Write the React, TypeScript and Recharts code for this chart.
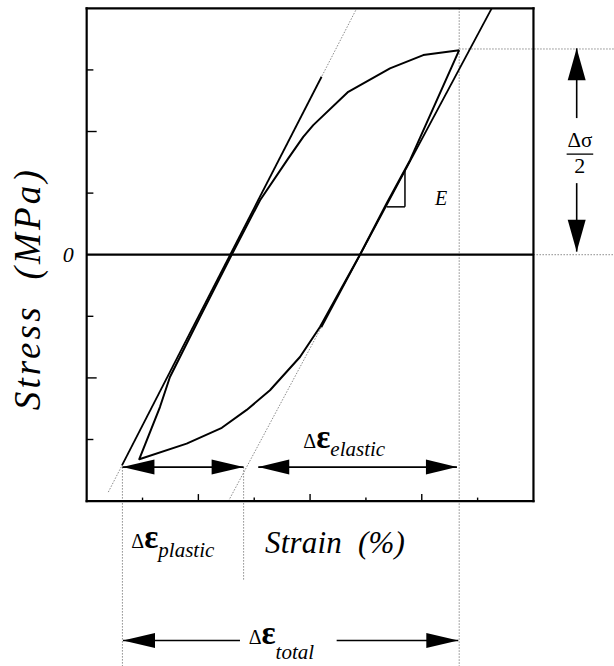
import React from 'react';
import { LineChart, Line, XAxis, YAxis, ReferenceLine, ReferenceDot } from 'recharts';

// ---- Hysteresis loop (strain in axis units, stress in tick units) ----
const lowerBranchStrain = [6.67, 5.79, 5.372, 4.893, 4.177, 3.819, 3.282, 2.865, 2.42, 1.79, 0.942];
const lowerBranchStress = [3.32, 1.534, 0.837, 0.0, -1.173, -1.66, -2.201, -2.52, -2.81, -3.067, -3.32];
const upperBranchStrain = [1.312, 1.491, 2.029, 2.596, 3.104, 3.61, 3.878, 4.057, 4.684, 5.431, 6.027, 6.67];
const upperBranchStress = [-2.473, -1.985, -1.011, 0.0, 0.885, 1.563, 1.914, 2.104, 2.645, 3.025, 3.241, 3.32];

// ---- Elastic (modulus E) lines ----
const leftElasticStrain = [0.387, 4.835];
const leftElasticStress = [-3.854, 3.999];
const leftElasticSolidStrain = [0.632, 4.206];
const leftElasticSolidStress = [-3.42, 2.889];
const rightElasticStrain = [2.538, 7.252];
const rightElasticStress = [-4.0, 4.0];
const rightElasticSolidStrain = [4.201, 7.252];
const rightElasticSolidStress = [-1.178, 4.0];

// ---- Axis ticks ----
const xTickValues = [1, 2, 3, 4, 5, 6, 7];
const yTickValues = [-3, -2, -1, 1, 2, 3];
const yTickLabels = ['0'];

// ---- Domains ----
const xDomain: [number, number] = [-1.552, 9.442];
const yDomain: [number, number] = [-6.677, 4.135];
const boxStrain: [number, number] = [0, 8];
const boxStress: [number, number] = [-4, 4];

// ---- Annotation values ----
const peakStress = 3.32;
const plasticStrainRange = [0.64, 2.81];
const elasticStrainRange = [3.072, 6.63];
const totalStrainRange = [0.65, 6.654];
const strainArrowStress = -3.448;
const totalArrowStress = -6.263;

const loopData = [
  ...lowerBranchStrain.map((x, i) => ({ x, y: lowerBranchStress[i] })),
  ...upperBranchStrain.map((x, i) => ({ x, y: upperBranchStress[i] })),
];
const toPts = (xs: number[], ys: number[]) => xs.map((x, i) => ({ x, y: ys[i] }));

const SERIF = 'Liberation Serif, Times New Roman, Times, serif';
const DOT = { stroke: '#8a8a8a', strokeWidth: 1, strokeDasharray: '1.5 1.5' };

const arrowShape = (opts: { start?: boolean; end?: boolean; len?: number; half?: number }) => (p: any) => {
  const { x1, y1, x2, y2 } = p;
  const dx = x2 - x1;
  const dy = y2 - y1;
  const d = Math.hypot(dx, dy) || 1;
  const ux = dx / d;
  const uy = dy / d;
  const nx = -uy;
  const ny = ux;
  const L = opts.len ?? 32;
  const H = opts.half ?? 7.5;
  const head = (tx: number, ty: number, dir: number) => {
    const bx = tx - dir * ux * L;
    const by = ty - dir * uy * L;
    return `${tx},${ty} ${bx + nx * H},${by + ny * H} ${bx - nx * H},${by - ny * H}`;
  };
  return (
    <g>
      <line x1={x1} y1={y1} x2={x2} y2={y2} stroke="#000" strokeWidth={1.6} />
      {opts.start ? <polygon points={head(x1, y1, -1)} fill="#000" /> : null}
      {opts.end ? <polygon points={head(x2, y2, 1)} fill="#000" /> : null}
    </g>
  );
};

const deltaEps = (sub: string, drop: number) => (p: any) => (
  <text x={p.cx} y={p.cy} fontFamily={SERIF} fill="#000">
    <tspan fontSize={20}>Δ</tspan>
    <tspan fontSize={33} fontWeight="bold">ε</tspan>
    <tspan fontSize={21} fontStyle="italic" dy={drop}>{sub}</tspan>
  </text>
);

const plainText = (txt: string, size: number, italic: boolean, anchor: string = 'start', extra: any = {}) => (p: any) => (
  <text x={p.cx} y={p.cy} fontFamily={SERIF} fontSize={size} fontStyle={italic ? 'italic' : 'normal'} textAnchor={anchor} fill="#000" {...extra}>
    {txt}
  </text>
);

const rotatedText = (txt: string, size: number, len: number) => (p: any) => (
  <text
    x={p.cx}
    y={p.cy}
    transform={`rotate(-90 ${p.cx} ${p.cy})`}
    fontFamily={SERIF}
    fontSize={size}
    fontStyle="italic"
    textAnchor="middle"
    textLength={len}
    lengthAdjust="spacing"
    fill="#000"
  >
    {txt}
  </text>
);

export default function App() {
  return (
    <div style={{ width: 614, height: 666, overflow: 'hidden', background: '#fff' }}>
      <style>{`html,body{margin:0;padding:0;overflow:hidden;background:#fff}`}</style>
      <LineChart width={614} height={666} margin={{ top: 0, right: 0, bottom: 0, left: 0 }}>
        <XAxis type="number" dataKey="x" domain={xDomain} allowDataOverflow hide />
        <YAxis type="number" dataKey="y" domain={yDomain} allowDataOverflow hide />

        {/* dotted guide lines */}
        <ReferenceLine ifOverflow="visible" segment={toPts(leftElasticStrain, leftElasticStress)} {...DOT} />
        <ReferenceLine ifOverflow="visible" segment={toPts(rightElasticStrain, rightElasticStress)} {...DOT} />
        <ReferenceLine ifOverflow="visible" segment={[{ x: plasticStrainRange[0], y: strainArrowStress }, { x: plasticStrainRange[0], y: yDomain[0] }]} {...DOT} />
        <ReferenceLine ifOverflow="visible" segment={[{ x: plasticStrainRange[1], y: strainArrowStress }, { x: plasticStrainRange[1], y: -5.288 }]} {...DOT} />
        <ReferenceLine ifOverflow="visible" segment={[{ x: 6.67, y: boxStress[1] }, { x: 6.67, y: yDomain[0] }]} {...DOT} />
        <ReferenceLine ifOverflow="visible" segment={[{ x: 6.67, y: peakStress + 0.02 }, { x: xDomain[1], y: peakStress + 0.02 }]} {...DOT} />
        <ReferenceLine ifOverflow="visible" segment={[{ x: boxStrain[1], y: 0 }, { x: xDomain[1], y: 0 }]} {...DOT} />

        {/* plot box */}
        <ReferenceLine ifOverflow="visible" segment={[{ x: boxStrain[0], y: boxStress[0] }, { x: boxStrain[0], y: boxStress[1] }]} stroke="#000" strokeWidth={2.2} strokeLinecap="square" />
        <ReferenceLine ifOverflow="visible" segment={[{ x: boxStrain[1], y: boxStress[0] }, { x: boxStrain[1], y: boxStress[1] }]} stroke="#000" strokeWidth={2.2} strokeLinecap="square" />
        <ReferenceLine ifOverflow="visible" segment={[{ x: boxStrain[0], y: boxStress[1] }, { x: boxStrain[1], y: boxStress[1] }]} stroke="#000" strokeWidth={2.2} strokeLinecap="square" />
        <ReferenceLine ifOverflow="visible" segment={[{ x: boxStrain[0], y: boxStress[0] }, { x: boxStrain[1], y: boxStress[0] }]} stroke="#000" strokeWidth={2.2} strokeLinecap="square" />
        <ReferenceLine ifOverflow="visible" segment={[{ x: boxStrain[0], y: 0 }, { x: boxStrain[1], y: 0 }]} stroke="#000" strokeWidth={2.2} />

        {/* ticks (inside) */}
        {xTickValues.map((v) => (
          <ReferenceLine
            key={`xt${v}`}
            ifOverflow="visible"
            segment={[{ x: v, y: boxStress[0] }, { x: v, y: boxStress[0] + (v % 2 === 0 ? 0.114 : 0.057) }]}
            stroke="#000"
            strokeWidth={1.4}
          />
        ))}
        {yTickValues.map((v) => (
          <ReferenceLine
            key={`yt${v}`}
            ifOverflow="visible"
            segment={[{ x: boxStrain[0], y: v }, { x: boxStrain[0] + (Math.abs(v) % 2 === 0 ? 0.179 : 0.12), y: v }]}
            stroke="#000"
            strokeWidth={1.4}
          />
        ))}

        {/* solid elastic lines */}
        <ReferenceLine ifOverflow="visible" segment={toPts(leftElasticSolidStrain, leftElasticSolidStress)} stroke="#000" strokeWidth={1.8} />
        <ReferenceLine ifOverflow="visible" segment={toPts(rightElasticSolidStrain, rightElasticSolidStress)} stroke="#000" strokeWidth={1.8} />

        {/* E slope triangle */}
        <ReferenceLine ifOverflow="visible" segment={[{ x: 5.699, y: 0.777 }, { x: 5.699, y: 1.373 }]} stroke="#000" strokeWidth={1.5} />
        <ReferenceLine ifOverflow="visible" segment={[{ x: 5.372, y: 0.777 }, { x: 5.699, y: 0.777 }]} stroke="#000" strokeWidth={1.5} />

        {/* hysteresis loop */}
        <Line data={loopData} dataKey="y" type="linear" stroke="#000" strokeWidth={2} strokeLinejoin="round" dot={false} activeDot={false} isAnimationActive={false} />

        {/* strain arrows */}
        <ReferenceLine ifOverflow="visible" segment={[{ x: plasticStrainRange[0], y: strainArrowStress }, { x: plasticStrainRange[1], y: strainArrowStress }]} shape={arrowShape({ start: true, end: true })} />
        <ReferenceLine ifOverflow="visible" segment={[{ x: elasticStrainRange[0], y: strainArrowStress }, { x: elasticStrainRange[1], y: strainArrowStress }]} shape={arrowShape({ start: true, end: true, len: 31 })} />
        <ReferenceLine ifOverflow="visible" segment={[{ x: 2.745, y: totalArrowStress }, { x: totalStrainRange[0], y: totalArrowStress }]} shape={arrowShape({ end: true })} />
        <ReferenceLine ifOverflow="visible" segment={[{ x: 4.476, y: totalArrowStress }, { x: totalStrainRange[1], y: totalArrowStress }]} shape={arrowShape({ end: true })} />

        {/* stress amplitude arrows */}
        <ReferenceLine ifOverflow="visible" segment={[{ x: 8.774, y: 2.218 }, { x: 8.774, y: peakStress + 0.03 }]} shape={arrowShape({ end: true, len: 32, half: 9 })} />
        <ReferenceLine ifOverflow="visible" segment={[{ x: 8.774, y: 1.162 }, { x: 8.774, y: 0.05 }]} shape={arrowShape({ end: true, len: 32, half: 9 })} />
        <ReferenceLine ifOverflow="visible" segment={[{ x: 8.594, y: 1.633 }, { x: 9.07, y: 1.633 }]} stroke="#000" strokeWidth={1.3} />

        {/* texts */}
        <ReferenceDot ifOverflow="visible" x={8.83} y={1.751} r={0} shape={plainText('Δσ', 21, false, 'middle')} />
        <ReferenceDot ifOverflow="visible" x={8.83} y={1.319} r={0} shape={plainText('2', 22, false, 'middle')} />
        <ReferenceDot ifOverflow="visible" x={6.236} y={0.804} r={0} shape={plainText('E', 20, true)} />
        <ReferenceDot ifOverflow="visible" x={-0.33} y={-0.117} r={0} shape={plainText(yTickLabels[0], 22, true, 'middle')} />
        <ReferenceDot ifOverflow="visible" x={3.88} y={-3.133} r={0} shape={deltaEps('elastic', 8)} />
        <ReferenceDot ifOverflow="visible" x={0.8} y={-4.768} r={0} shape={deltaEps('plastic', 9)} />
        <ReferenceDot ifOverflow="visible" x={2.9} y={-6.32} r={0} shape={deltaEps('total', 15)} />
        <ReferenceDot ifOverflow="visible" x={3.192} y={-4.85} r={0} shape={plainText('Strain\u00A0\u00A0(%)', 31, true, 'start', { textLength: 140, lengthAdjust: 'spacing' })} />
        <ReferenceDot ifOverflow="visible" x={-0.836} y={-0.577} r={0} shape={rotatedText('Stress\u00A0\u00A0(MPa)', 37, 240)} />
      </LineChart>
    </div>
  );
}
